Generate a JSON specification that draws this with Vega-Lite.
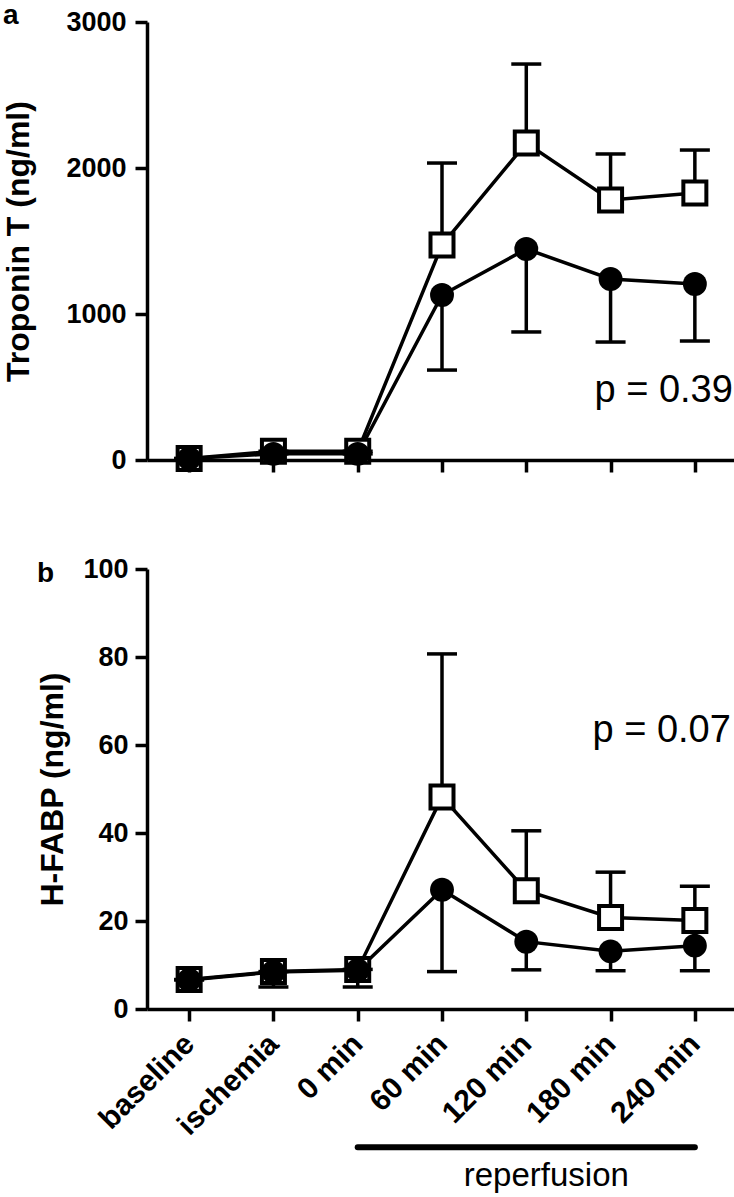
{
  "$schema": "https://vega.github.io/schema/vega-lite/v6.json",
  "padding": {"left": 2, "top": 2, "right": 0, "bottom": 0},
  "spacing": 76,
  "config": {
    "font": "Liberation Sans",
    "view": {"stroke": null},
    "axis": {
      "domainColor": "black", "domainWidth": 3.5, "tickColor": "black", "tickWidth": 3.5, "tickSize": 12,
      "labelColor": "black", "labelFont": "Liberation Sans", "labelFontWeight": "bold", "labelFontSize": 27,
      "grid": false, "titleColor": "black", "titleFont": "Liberation Sans", "titleFontWeight": "bold", "titleFontSize": 32,
      "labelPadding": 9
    },
    "title": {"font": "Liberation Sans", "fontSize": 28, "fontWeight": "bold", "color": "black", "anchor": "start", "frame": "bounds"}
  },
  "datasets": {
    "troponin": [
      {"time": "baseline", "group": "sq", "mean": 10, "err": 10},
      {"time": "ischemia", "group": "sq", "mean": 60, "err": 60},
      {"time": "0 min", "group": "sq", "mean": 60, "err": 60},
      {"time": "60 min", "group": "sq", "mean": 1473, "err": 2034},
      {"time": "120 min", "group": "sq", "mean": 2171, "err": 2712},
      {"time": "180 min", "group": "sq", "mean": 1781, "err": 2096},
      {"time": "240 min", "group": "sq", "mean": 1829, "err": 2123},
      {"time": "baseline", "group": "ci", "mean": 10, "err": 10},
      {"time": "ischemia", "group": "ci", "mean": 42, "err": 42},
      {"time": "0 min", "group": "ci", "mean": 42, "err": 42},
      {"time": "60 min", "group": "ci", "mean": 1130, "err": 616},
      {"time": "120 min", "group": "ci", "mean": 1445, "err": 877},
      {"time": "180 min", "group": "ci", "mean": 1240, "err": 808},
      {"time": "240 min", "group": "ci", "mean": 1205, "err": 815}
    ],
    "hfabp": [
      {"time": "baseline", "group": "sq", "mean": 6.7, "err": 6.7},
      {"time": "ischemia", "group": "sq", "mean": 8.5, "err": 8.5},
      {"time": "0 min", "group": "sq", "mean": 9.0, "err": 9.0},
      {"time": "60 min", "group": "sq", "mean": 48.2, "err": 80.7},
      {"time": "120 min", "group": "sq", "mean": 26.9, "err": 40.5},
      {"time": "180 min", "group": "sq", "mean": 20.8, "err": 31.1},
      {"time": "240 min", "group": "sq", "mean": 20.1, "err": 27.9},
      {"time": "baseline", "group": "ci", "mean": 6.6, "err": 6.6},
      {"time": "ischemia", "group": "ci", "mean": 8.4, "err": 5.0},
      {"time": "0 min", "group": "ci", "mean": 8.8, "err": 5.0},
      {"time": "60 min", "group": "ci", "mean": 27.1, "err": 8.5},
      {"time": "120 min", "group": "ci", "mean": 15.3, "err": 8.9},
      {"time": "180 min", "group": "ci", "mean": 13.1, "err": 8.7},
      {"time": "240 min", "group": "ci", "mean": 14.4, "err": 8.7}
    ]
  },
  "vconcat": [
    {
      "width": 590,
      "height": 438,
      "title": {"text": "a", "offset": -22},
      "data": {"name": "troponin"},
      "encoding": {
        "x": {
          "field": "time", "type": "ordinal",
          "scale": {"type": "point", "padding": 0.5, "domain": ["baseline", "ischemia", "0 min", "60 min", "120 min", "180 min", "240 min"]},
          "axis": {"labels": false, "title": null}
        }
      },
      "layer": [
        {
          "mark": {"type": "line", "color": "black", "strokeWidth": 3.5},
          "encoding": {
            "y": {"field": "mean", "type": "quantitative", "title": "Troponin T (ng/ml)",
                  "scale": {"domain": [0, 3000], "nice": false},
                  "axis": {"values": [0, 1000, 2000, 3000], "format": "d", "titlePadding": 30}},
            "detail": {"field": "group"}
          }
        },
        {
          "mark": {"type": "rule", "color": "black", "strokeWidth": 3.5},
          "encoding": {
            "y": {"field": "mean", "type": "quantitative", "title": "Troponin T (ng/ml)"},
            "y2": {"field": "err"}
          }
        },
        {
          "mark": {"type": "tick", "color": "black", "thickness": 3.5, "size": 30, "opacity": 1},
          "encoding": {
            "y": {"field": "err", "type": "quantitative", "title": "Troponin T (ng/ml)"}
          }
        },
        {
          "transform": [{"filter": "datum.group === 'sq'"}],
          "mark": {"type": "square", "fill": "white", "stroke": "black", "strokeWidth": 4, "size": 529, "opacity": 1},
          "encoding": {
            "y": {"field": "mean", "type": "quantitative", "title": "Troponin T (ng/ml)"}
          }
        },
        {
          "transform": [{"filter": "datum.group === 'ci'"}],
          "mark": {"type": "circle", "fill": "black", "size": 572, "opacity": 1},
          "encoding": {
            "y": {"field": "mean", "type": "quantitative", "title": "Troponin T (ng/ml)"}
          }
        },
        {
          "data": {"values": [{"time": "240 min", "mean": 397, "label": "p = 0.39"}]},
          "mark": {"type": "text", "align": "right", "baseline": "alphabetic", "dx": 38, "fontSize": 38, "font": "Liberation Sans", "color": "black"},
          "encoding": {
            "y": {"field": "mean", "type": "quantitative", "title": "Troponin T (ng/ml)"},
            "text": {"field": "label"}
          }
        }
      ]
    },
    {
      "width": 590,
      "height": 440,
      "title": {"text": "b", "offset": -33},
      "data": {"name": "hfabp"},
      "encoding": {
        "x": {
          "field": "time", "type": "ordinal",
          "scale": {"type": "point", "padding": 0.5, "domain": ["baseline", "ischemia", "0 min", "60 min", "120 min", "180 min", "240 min"]},
          "axis": {"title": null, "labelAngle": -45, "labelAlign": "right", "labelBaseline": "middle", "labelPadding": 18, "labelFontSize": 30}
        }
      },
      "layer": [
        {
          "mark": {"type": "line", "color": "black", "strokeWidth": 3.5},
          "encoding": {
            "y": {"field": "mean", "type": "quantitative", "title": "H-FABP (ng/ml)",
                  "scale": {"domain": [0, 100], "nice": false},
                  "axis": {"values": [0, 20, 40, 60, 80, 100], "titlePadding": 13, "labelPadding": 7}},
            "detail": {"field": "group"}
          }
        },
        {
          "mark": {"type": "rule", "color": "black", "strokeWidth": 3.5},
          "encoding": {
            "y": {"field": "mean", "type": "quantitative", "title": "H-FABP (ng/ml)"},
            "y2": {"field": "err"}
          }
        },
        {
          "mark": {"type": "tick", "color": "black", "thickness": 3.5, "size": 30, "opacity": 1},
          "encoding": {
            "y": {"field": "err", "type": "quantitative", "title": "H-FABP (ng/ml)"}
          }
        },
        {
          "transform": [{"filter": "datum.group === 'sq'"}],
          "mark": {"type": "square", "fill": "white", "stroke": "black", "strokeWidth": 4, "size": 529, "opacity": 1},
          "encoding": {
            "y": {"field": "mean", "type": "quantitative", "title": "H-FABP (ng/ml)"}
          }
        },
        {
          "transform": [{"filter": "datum.group === 'ci'"}],
          "mark": {"type": "circle", "fill": "black", "size": 572, "opacity": 1},
          "encoding": {
            "y": {"field": "mean", "type": "quantitative", "title": "H-FABP (ng/ml)"}
          }
        },
        {
          "data": {"values": [{"time": "240 min", "mean": 60.7, "label": "p = 0.07"}]},
          "mark": {"type": "text", "align": "right", "baseline": "alphabetic", "dx": 36, "fontSize": 38, "font": "Liberation Sans", "color": "black"},
          "encoding": {
            "y": {"field": "mean", "type": "quantitative", "title": "H-FABP (ng/ml)"},
            "text": {"field": "label"}
          }
        },
        {
          "data": {"values": [{"time": "0 min", "to": "240 min", "mean": -31.4}]},
          "mark": {"type": "rule", "color": "black", "strokeWidth": 6, "strokeCap": "round"},
          "encoding": {
            "x2": {"field": "to"},
            "y": {"field": "mean", "type": "quantitative", "title": "H-FABP (ng/ml)"}
          }
        },
        {
          "data": {"values": [{"time": "120 min", "mean": -40.2, "label": "reperfusion"}]},
          "mark": {"type": "text", "align": "center", "baseline": "alphabetic", "dx": 20, "fontSize": 33, "font": "Liberation Sans", "color": "black"},
          "encoding": {
            "y": {"field": "mean", "type": "quantitative", "title": "H-FABP (ng/ml)"},
            "text": {"field": "label"}
          }
        }
      ]
    }
  ]
}
